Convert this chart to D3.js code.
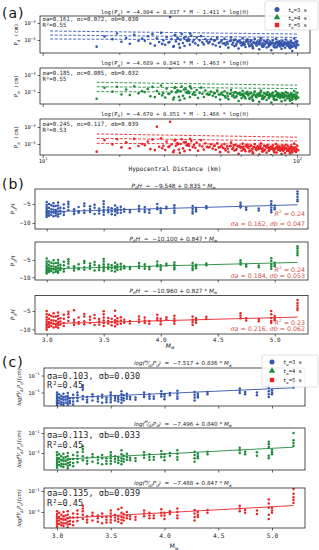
<!DOCTYPE html>
<html><head><meta charset="utf-8">
<script src="https://cdn.jsdelivr.net/npm/d3@7"></script>
<style>html,body{margin:0;padding:0;background:#fff;} svg{display:block;}</style>
</head><body>
<svg id="chart" width="319" height="550"></svg>
<script>
// ---------------- DATA ----------------
const seriesLabels = ["3 s", "4 s", "5 s"];
// Panel (a): hypocentral distance (km) and log10(Pd) for three time windows
const distKm = [16.3,17.5,18.8,19.6,20.4,21.3,22.0,22.9,23.8,24.6,
25.2,25.9,26.5,27.0,27.6,28.1,28.7,29.2,29.8,30.3,30.7,31.2,31.7,32.1,32.6,33.0,33.4,33.9,34.3,34.8,35.2,35.6,36.1,36.5,37.0,37.4,37.9,38.4,38.9,39.3,39.8,40.3,40.8,41.4,41.9,42.4,43.0,43.6,44.2,44.8,33.2,34.6,35.9,31.5,36.8,38.0,32.8,34.0,29.5,37.6,
45.3,45.9,46.6,47.2,47.9,48.5,49.2,49.8,50.5,51.1,51.8,52.4,53.1,53.7,54.4,55.0,55.6,56.1,56.7,57.2,57.8,58.3,58.9,59.4,60.0,60.5,61.1,61.6,62.2,62.7,63.3,63.8,64.4,64.9,65.5,66.0,66.6,67.1,67.7,68.2,68.8,69.3,69.9,70.4,71.0,71.5,72.1,72.6,73.2,73.7,74.3,74.8,75.4,75.9,76.5,77.0,77.6,78.1,78.7,79.2,79.8,80.3,80.9,81.4,82.0,82.5,83.1,83.6,84.2,84.7,85.3,85.8,86.4,86.9,87.5,88.0,88.6,89.1,89.7,90.2,90.8,91.3,91.9,92.4,93.0,93.5,94.1,94.6,95.2,95.7,96.3,96.8,97.4,97.9,98.5,99.0,99.6,100.2,101.0,60.8,66.3,71.8,77.3,82.8,88.3,93.8,63.0,74.0,85.0,96.0];
const logPdA1 = [-4.39,-3.80,-3.95,-3.62,-4.10,-3.88,-4.22,-3.70,-4.05,-3.92,
-4.05,-3.78,-4.21,-3.66,-4.33,-3.90,-4.12,-3.58,-4.02,-4.28,-3.84,-4.15,-2.65,-3.95,-4.40,-3.72,-4.08,-3.87,-4.24,-3.98,-3.64,-4.18,-4.35,-3.81,-4.06,-3.92,-4.27,-3.75,-4.11,-3.99,-4.20,-3.86,-4.31,-4.02,-3.77,-4.14,-4.26,-3.94,-4.08,-4.19,-3.70,-4.45,-3.88,-4.12,-4.00,-3.62,-4.36,-3.93,-4.23,-4.04,
-4.10,-3.95,-4.25,-4.05,-4.32,-3.88,-4.18,-4.40,-4.02,-4.21,-3.92,-4.30,-4.12,-4.45,-4.06,-3.85,-4.27,-4.15,-4.36,-3.98,-4.22,-4.10,-4.50,-4.03,-4.19,-4.33,-3.90,-4.14,-4.26,-4.41,-4.08,-3.96,-4.23,-4.37,-4.12,-4.02,-4.29,-4.48,-4.16,-3.94,-4.24,-4.34,-4.07,-4.20,-4.55,-4.11,-3.89,-4.28,-4.18,-4.39,-4.05,-4.25,-4.13,-4.44,-3.99,-4.21,-4.32,-4.09,-4.27,-4.60,-4.15,-4.02,-4.35,-4.19,-4.26,-3.93,-4.42,-4.11,-4.23,-4.30,-4.07,-4.38,-4.17,-4.52,-4.04,-4.22,-4.29,-4.13,-4.46,-3.97,-4.25,-4.34,-4.10,-4.20,-4.41,-4.15,-4.28,-4.06,-4.36,-4.65,-4.18,-4.24,-3.91,-4.32,-4.12,-4.45,-4.21,-4.08,-4.30,-4.17,-4.26,-4.02,-4.38,-4.14,-4.23,-4.48,-4.09,-4.31,-4.19,-4.40,-4.05];
const logPdA2 = [-4.40,-3.75,-3.98,-3.70,-4.15,-3.85,-4.18,-3.66,-4.08,-3.95,
-4.00,-3.82,-4.25,-3.70,-4.30,-3.94,-4.10,-3.62,-4.06,-4.32,-3.80,-4.12,-2.60,-3.98,-4.44,-3.76,-4.03,-3.90,-4.28,-3.95,-3.68,-4.22,-4.38,-3.84,-4.01,-3.96,-4.30,-3.79,-4.14,-4.02,-4.17,-3.88,-4.35,-4.05,-3.74,-4.10,-4.29,-3.91,-4.12,-4.16,-3.73,-4.48,-3.85,-4.09,-4.04,-3.66,-4.33,-3.97,-4.20,-4.07,
-4.14,-3.98,-4.22,-4.09,-4.29,-3.92,-4.15,-4.44,-4.05,-4.18,-3.96,-4.34,-4.09,-4.42,-4.10,-3.88,-4.24,-4.19,-4.33,-4.01,-4.25,-4.07,-4.53,-4.06,-4.16,-4.36,-3.93,-4.11,-4.30,-4.38,-4.12,-3.99,-4.20,-4.40,-4.09,-4.05,-4.26,-4.51,-4.13,-3.97,-4.27,-4.31,-4.10,-4.17,-4.58,-4.14,-3.92,-4.25,-4.21,-4.36,-4.08,-4.28,-4.10,-4.47,-4.02,-4.18,-4.35,-4.12,-4.24,-4.62,-4.12,-4.05,-4.32,-4.22,-4.23,-3.96,-4.45,-4.08,-4.26,-4.27,-4.10,-4.35,-4.20,-4.55,-4.07,-4.19,-4.32,-4.10,-4.49,-4.00,-4.22,-4.37,-4.07,-4.23,-4.38,-4.18,-4.25,-4.09,-4.33,-4.68,-4.15,-4.27,-3.94,-4.29,-4.15,-4.42,-4.24,-4.05,-4.33,-4.14,-4.29,-4.05,-4.35,-4.17,-4.20,-4.51,-4.06,-4.34,-4.16,-4.43,-4.08];
const logPdA3 = [-4.45,-3.78,-4.02,-3.72,-4.20,-3.90,-4.25,-3.70,-4.12,-4.00,
-4.08,-3.86,-4.30,-3.74,-4.36,-2.98,-4.16,-3.66,-4.10,-4.36,-3.86,-4.18,-2.69,-4.03,-4.48,-3.80,-4.10,-3.95,-4.32,-4.00,-3.72,-4.26,-4.42,-3.88,-4.08,-4.00,-4.35,-3.83,-4.18,-4.06,-4.22,-3.92,-4.40,-4.09,-3.78,-4.15,-4.33,-3.96,-4.16,-4.21,-3.76,-4.52,-3.90,-4.14,-4.08,-3.70,-4.38,-4.02,-4.25,-4.11,
-4.18,-4.02,-4.27,-4.12,-4.34,-3.96,-4.20,-4.48,-4.09,-4.23,-4.00,-4.38,-4.14,-4.47,-4.13,-3.92,-4.29,-4.22,-4.38,-4.05,-4.29,-4.12,-4.57,-4.10,-4.20,-4.40,-3.98,-4.16,-4.34,-4.43,-4.16,-4.03,-4.25,-4.44,-4.13,-4.09,-4.31,-4.55,-4.18,-4.01,-4.31,-4.36,-4.14,-4.22,-4.62,-4.18,-3.96,-4.30,-4.25,-4.41,-4.12,-4.33,-4.14,-4.51,-4.06,-4.22,-4.40,-4.16,-4.29,-4.66,-4.17,-4.09,-4.37,-4.26,-4.28,-4.00,-4.50,-4.13,-4.30,-4.32,-4.14,-4.40,-4.24,-4.59,-4.11,-4.24,-4.36,-4.15,-4.53,-4.04,-4.27,-4.41,-4.12,-4.28,-4.43,-4.22,-4.30,-4.13,-4.38,-4.70,-4.19,-4.31,-3.98,-4.34,-4.19,-4.47,-4.28,-4.10,-4.37,-4.18,-4.33,-4.09,-4.40,-4.21,-4.25,-4.55,-4.10,-4.38,-4.20,-4.47,-4.12];
// additional records in the dense 47-100 km band
const distKmExtra = [52.0,54.8,57.5,59.9,62.0,64.1,66.8,69.0,71.3,73.5,75.6,77.8,80.0,81.7,83.9,86.1,88.2,90.5,92.7,94.9,97.1,99.3,56.4,61.4,67.4,72.9,78.4,84.0,89.4,95.0,98.2,47.5,50.0,53.4,58.6,65.2,70.7,76.2,81.1,87.2];
const logPdA1Extra = [-4.20,-4.05,-4.33,-4.14,-4.28,-4.09,-4.40,-4.17,-4.24,-4.36,-4.11,-4.30,-4.21,-4.44,-4.15,-4.27,-4.35,-4.18,-4.29,-4.42,-4.23,-4.33,-4.00,-4.26,-4.13,-4.38,-4.19,-4.31,-4.24,-4.16,-4.37,-4.02,-4.12,-4.22,-4.08,-4.34,-4.25,-4.14,-4.39,-4.30];
const logPdA2Extra = [-4.24,-4.10,-4.30,-4.18,-4.25,-4.12,-4.44,-4.20,-4.22,-4.39,-4.15,-4.27,-4.25,-4.47,-4.12,-4.30,-4.32,-4.21,-4.26,-4.45,-4.20,-4.36,-4.04,-4.23,-4.16,-4.41,-4.22,-4.28,-4.27,-4.19,-4.34,-4.06,-4.15,-4.25,-4.11,-4.37,-4.22,-4.17,-4.42,-4.27];
const logPdA3Extra = [-4.28,-4.12,-4.36,-4.20,-4.31,-4.15,-4.47,-4.23,-4.27,-4.43,-4.18,-4.33,-4.28,-4.50,-4.19,-4.32,-4.39,-4.24,-4.33,-4.49,-4.27,-4.38,-4.08,-4.30,-4.19,-4.44,-4.25,-4.35,-4.29,-4.22,-4.41,-4.09,-4.18,-4.28,-4.14,-4.40,-4.30,-4.20,-4.45,-4.34];
// dashed fit curves in (a): [distance start, log value, distance end, log value]
const fitA1 = [[10.7,-3.47,100,-3.65],[10.7,-3.71,100,-3.85],[10.7,-3.94,100,-4.00]];
const fitA2 = [[16.3,-3.43,100,-3.60],[16.3,-3.69,100,-3.80],[16.3,-3.98,100,-4.02]];
const fitA3 = [[16.3,-3.41,100,-3.60],[16.3,-3.67,100,-3.82],[16.3,-3.96,100,-4.02]];
const eqA = [[-4.804,0.837,1.411],[-4.689,0.841,1.463],[-4.670,0.851,1.466]];
const sigA = [[0.161,0.072,0.030],[0.185,0.085,0.032],[0.245,0.117,0.039]];
const r2A = [0.55,0.55,0.53];
const distTicks = [10,20,30,40,50,60,70,80,90,100];
const distTickLabels = {10:"1", 100:"2"};
const logPdTicks = [-3,-4];

// Panels (b),(c): event magnitudes and values per event
const mwEvents = [3.00,3.02,3.04,3.06,3.08,3.10,3.12,3.15,3.19,3.24,3.28,3.33,3.38,3.42,3.46,3.50,3.54,3.57,3.60,3.62,3.65,3.68,3.73,3.81,3.86,3.90,3.97,4.00,4.05,4.12,4.28,4.31,4.40,4.70,4.75,4.86,4.97,5.00,5.20];
const pdhB1 = [[-4.5,-5.2,-5.8,-6.3,-6.8,-7.2,-7.6,-8.0,-8.4],[-5.0,-6.0,-6.9,-7.5,-8.1],[-5.3,-6.4,-7.1,-7.8],[-4.8,-5.6,-6.5,-7.3,-8.2],[-5.5,-6.6,-7.4,-8.0],[-4.6,-5.4,-6.2,-7.0,-7.7,-8.3],[-6.0,-6.8,-7.5],[-5.1,-6.1,-7.2,-7.9],[-4.4,-5.0,-5.7,-6.6],[-6.4,-7.0,-7.6],[-5.8,-6.9,-7.3],[-4.9,-5.5,-6.7,-7.4],[-5.6,-6.3,-7.1],[-5.2,-6.0,-7.6],[-6.2,-6.8,-7.5],[-4.3,-5.0,-5.8,-6.5,-7.1,-7.8],[-5.9,-6.6,-7.2],[-6.1,-6.9,-7.7],[-5.4,-6.4,-7.0,-7.9],[-6.0,-6.7,-7.4],[-5.7,-6.5,-7.3],[-6.3,-7.0],[-6.6,-7.2],[-5.5,-6.2,-6.9],[-5.8,-6.5,-7.1],[-6.6,-7.3],[-5.0,-5.9,-6.4],[-6.1,-6.8,-7.4],[-5.7,-6.2],[-5.3,-6.0,-6.7,-7.3],[-5.5,-6.3,-7.0,-7.5],[-6.0,-6.5,-7.0],[-5.6,-6.1],[-4.7,-5.3,-5.9],[-6.0,-6.5],[-6.2,-6.7],[-4.3,-5.0,-5.9,-6.6,-7.2],[-5.4,-6.0,-6.4],[-1.7,-2.4,-3.1,-3.8,-4.3]];
const pdhB2 = [[-4.6,-5.4,-6.1,-6.7,-7.2,-7.7,-8.1,-8.5,-8.9],[-5.4,-6.4,-7.2,-7.9,-8.5],[-5.8,-6.8,-7.5,-8.2],[-5.1,-6.0,-6.9,-7.7,-8.6],[-5.9,-7.0,-7.8,-8.4],[-5.0,-5.8,-6.6,-7.4,-8.1,-8.7],[-6.4,-7.2,-7.9],[-5.5,-6.5,-7.6,-8.3],[-4.8,-5.4,-6.1,-7.0],[-6.8,-7.4,-8.0],[-6.2,-7.3,-7.7],[-5.3,-5.9,-7.1,-7.8],[-6.0,-6.7,-7.5],[-5.6,-6.4,-8.0],[-6.6,-7.2,-7.9],[-4.7,-5.4,-6.2,-6.9,-7.5,-8.2],[-6.3,-7.0,-7.6],[-6.5,-7.3,-8.1],[-5.8,-6.8,-7.4,-8.3],[-6.4,-7.1,-7.8],[-6.1,-6.9,-7.7],[-6.7,-7.4],[-7.0,-7.6],[-5.9,-6.6,-7.3],[-6.2,-6.9,-7.5],[-7.0,-7.7],[-5.4,-6.3,-6.8],[-6.5,-7.2,-7.8],[-6.1,-6.6],[-5.7,-6.4,-7.1,-7.7],[-5.9,-6.7,-7.4,-7.9],[-6.4,-6.9,-7.4],[-6.0,-6.5],[-5.1,-5.7,-6.3],[-6.4,-6.9],[-6.6,-7.1],[-4.5,-5.3,-6.2,-6.9,-7.5],[-5.8,-6.4,-6.8],[-1.0,-1.6,-2.3,-3.0,-3.6]];
const pdhB3 = [[-5.0,-5.9,-6.7,-7.4,-8.0,-8.6,-9.1,-9.6,-10.1],[-6.0,-7.1,-8.0,-8.7,-9.4],[-6.4,-7.5,-8.3,-9.1],[-5.6,-6.6,-7.6,-8.5,-9.5],[-6.5,-7.7,-8.6,-9.3],[-5.4,-6.3,-7.2,-8.1,-8.9,-9.6],[-7.0,-7.9,-8.7],[-6.0,-7.1,-8.3,-9.1],[-5.2,-5.9,-6.7,-7.7],[-4.8,-7.4,-8.1,-8.8],[-6.8,-8.0,-8.5],[-5.8,-6.5,-7.8,-8.6],[-6.6,-7.4,-8.3],[-6.1,-7.0,-8.8],[-7.2,-7.9,-8.7],[-5.1,-5.9,-6.8,-7.6,-8.3,-9.1],[-6.9,-7.7,-8.4],[-7.1,-8.0,-8.9],[-4.9,-6.4,-7.5,-8.2,-9.2],[-7.0,-7.8,-8.6],[-6.7,-7.6,-8.5],[-7.4,-8.2],[-7.7,-8.4],[-6.5,-7.3,-8.1],[-6.8,-7.6,-8.3],[-7.7,-8.5],[-6.0,-6.9,-7.5],[-7.1,-7.9,-8.6],[-6.7,-7.3],[-6.3,-7.1,-7.8,-8.5],[-6.5,-7.4,-8.1,-8.8],[-7.0,-7.6,-8.2],[-6.6,-7.2],[-5.6,-6.3,-7.0],[-7.0,-7.6],[-7.2,-7.8],[-5.0,-5.9,-6.9,-7.7,-8.3],[-6.4,-7.1,-7.5],[-2.0,-2.8,-3.5,-4.2,-4.7]];
const logC1 = [[-4.0,-4.4,-4.8,-5.1,-5.4,-5.7,-6.0,-6.3],[-4.3,-4.9,-5.4,-5.9],[-4.6,-5.2,-5.7,-6.1],[-4.2,-4.8,-5.3,-5.8,-6.2],[-4.7,-5.3,-5.8],[-4.1,-4.6,-5.1,-5.6,-6.0,-6.4],[-5.0,-5.5,-5.9],[-4.4,-5.0,-5.6,-6.1],[-4.0,-4.5,-5.0,-5.5],[-2.7,-3.1,-3.5,-4.6,-5.2],[-4.8,-5.3,-5.7],[-4.3,-4.7,-5.4],[-4.7,-5.1,-5.6],[-4.4,-4.9,-5.8],[-4.9,-5.3,-5.7],[-4.0,-4.4,-4.9,-5.3,-5.7],[-4.6,-5.0,-5.4],[-4.8,-5.2,-5.6],[-3.8,-4.3,-4.9,-5.3,-5.8],[-4.5,-5.0,-5.4],[-4.2,-4.7,-5.1],[-4.8,-5.2],[-4.9,-5.3],[-4.0,-4.4,-4.8],[-4.3,-4.7,-5.1],[-4.7,-5.1],[-3.8,-4.3,-4.7],[-4.3,-4.7,-5.2],[-4.1,-4.5],[-3.7,-4.2,-4.7,-5.1],[-3.9,-4.4,-4.9,-5.4],[-4.2,-4.6,-4.9],[-3.9,-4.3],[-3.3,-3.7,-4.1],[-3.9,-4.3],[-4.0,-4.5],[-2.7,-3.2,-3.8,-4.3,-4.8],[-3.6,-4.0,-4.3],[-2.4,-2.8,-3.1]];
const logC2 = [[-3.9,-4.3,-4.7,-5.0,-5.3,-5.6,-5.9,-6.2],[-4.2,-4.8,-5.3,-5.8],[-4.5,-5.1,-5.6,-6.0],[-4.1,-4.7,-5.2,-5.7,-6.1],[-4.6,-5.2,-5.7],[-4.0,-4.5,-5.0,-5.5,-5.9,-6.3],[-4.9,-5.4,-5.8],[-4.3,-4.9,-5.5,-6.0],[-3.9,-4.4,-4.9,-5.4],[-3.0,-3.4,-3.8,-4.5,-5.1],[-4.7,-5.2,-5.6],[-4.2,-4.6,-5.3],[-4.6,-5.0,-5.5],[-4.3,-4.8,-5.7],[-4.8,-5.2,-5.6],[-3.9,-4.3,-4.8,-5.2,-5.6],[-4.5,-4.9,-5.3],[-4.7,-5.1,-5.5],[-3.6,-4.2,-4.8,-5.2,-5.7],[-4.4,-4.9,-5.3],[-4.1,-4.6,-5.0],[-4.7,-5.1],[-4.8,-5.2],[-3.9,-4.3,-4.7],[-4.2,-4.6,-5.0],[-4.6,-5.0],[-3.7,-4.2,-4.6],[-4.2,-4.6,-5.1],[-4.0,-4.4],[-3.6,-4.1,-4.6,-5.0],[-3.8,-4.3,-4.8,-5.3],[-4.1,-4.5,-4.8],[-3.8,-4.2],[-3.2,-3.6,-4.0],[-3.8,-4.2],[-3.9,-4.4],[-2.3,-2.7,-3.1,-4.4,-4.8],[-3.5,-3.9,-4.2],[-1.0,-2.1,-2.5,-2.9]];
const logC3 = [[-3.9,-4.3,-4.6,-4.9,-5.2,-5.5,-5.8,-6.1],[-4.1,-4.7,-5.2,-5.7],[-4.4,-5.0,-5.5,-5.9],[-4.0,-4.6,-5.1,-5.6,-6.0],[-4.5,-5.1,-5.6],[-3.9,-4.4,-4.9,-5.4,-5.8,-6.2],[-4.8,-5.3,-5.7],[-4.2,-4.8,-5.4,-5.9],[-3.8,-4.3,-4.8,-5.3],[-3.1,-3.5,-3.9,-4.4,-5.0],[-4.6,-5.1,-5.5],[-4.1,-4.5,-5.2],[-4.5,-4.9,-5.4],[-4.2,-4.7,-5.6],[-4.7,-5.1,-5.5],[-3.8,-4.2,-4.7,-5.1,-5.5],[-4.4,-4.8,-5.2],[-3.6,-4.6,-5.0,-5.4],[-3.4,-4.1,-4.7,-5.1,-5.6],[-4.3,-4.8,-5.2],[-4.0,-4.5,-4.9],[-4.6,-5.0],[-4.7,-5.1],[-3.8,-4.2,-4.6],[-4.1,-4.5,-4.9],[-4.5,-4.9],[-3.6,-4.1,-4.5],[-4.1,-4.5,-5.0],[-3.9,-4.3],[-3.5,-4.0,-4.5,-4.9],[-3.7,-4.2,-4.7,-5.2],[-4.0,-4.4,-4.7],[-3.7,-4.1],[-3.1,-3.5,-3.9],[-3.7,-4.1],[-3.8,-4.3],[-2.2,-2.8,-3.4,-4.4,-5.0],[-3.4,-3.8,-4.1],[-0.7,-1.4,-1.9,-2.3,-2.7]];
const eqB = [[-9.548,0.835],[-10.100,0.847],[-10.960,0.827]];
const r2B = [0.24,0.24,0.23];
const sigB = [[0.162,0.047],[0.184,0.053],[0.216,0.062]];
const eqC = [[-7.517,0.836],[-7.496,0.840],[-7.488,0.847]];
const sigC = [[0.103,0.030],[0.113,0.033],[0.135,0.039]];
const r2C = [0.45,0.45,0.45];
const mwTicks = [3.0,3.5,4.0,4.5,5.0];
const pdhTicks = [-5,-10];
const logCTicks = [-1,-4];
const fitRange = [3.0,5.2];

// ---------------- DRAWING ----------------
const svg = d3.select("#chart");
const MONO = "DejaVu Sans Mono, monospace", SANS = "DejaVu Sans, sans-serif";
const COLORS = ["#3456ab","#1f8a3c","#e8262a"];
const SHAPES = [d3.symbolCircle, d3.symbolTriangle, d3.symbolSquare];
const INK = "#262626";
const f3 = d3.format(".3f"), f2 = d3.format(".2f");
const mn = s => String(s).replace("-", "\u2212");

function rich(x, y, parts, o) {
  const t = svg.append("text").attr("x", x).attr("y", y)
    .attr("font-family", o.font).attr("font-size", o.fs).attr("fill", o.fill || INK)
    .attr("text-anchor", o.anchor || "start").style("white-space", "pre");
  if (o.italic) t.attr("font-style", "italic");
  if (o.transform) t.attr("transform", o.transform);
  let shift = 0;
  parts.forEach(p => {
    const s = typeof p === "string" ? {t: p} : p;
    const target = s.sub ? 0.3 * o.fs : s.sup ? -0.42 * o.fs : 0;
    const ts = t.append("tspan").attr("dy", target - shift).text(s.t);
    shift = target;
    if (s.sub || s.sup) ts.attr("font-size", o.fs * 0.7);
    if (s.it) ts.attr("font-style", "italic");
    if (s.up) ts.attr("font-style", "normal");
  });
  return t;
}
function frame(x0, x1, y0, y1) {
  svg.append("rect").attr("x", x0).attr("y", y0).attr("width", x1 - x0).attr("height", y1 - y0)
    .attr("fill", "none").attr("stroke", INK).attr("stroke-width", 0.8);
}
function styleAxis(g, fs) {
  g.select(".domain").remove();
  g.selectAll(".tick line").attr("stroke", INK).attr("stroke-width", 0.7);
  g.selectAll(".tick text").attr("font-family", MONO).attr("font-size", fs).attr("fill", INK);
}
function powLabels(g, fs, expOf) {
  g.selectAll(".tick text").each(function(d) {
    const e = expOf(d);
    const t = d3.select(this);
    t.text("");
    if (e === null || e === undefined) return;
    t.append("tspan").text("10");
    t.append("tspan").attr("dy", -fs * 0.45).attr("font-size", fs * 0.7).text(e);
  });
}

// ---- Panel (a)
svg.append("text").attr("x", 2).attr("y", 18).attr("font-family", SANS).attr("font-size", 14)
  .attr("letter-spacing", 1).attr("fill", "#111").text("(a)");
const xA = d3.scaleLog().domain([9.76, 112.4]).range([40, 310]);
const aLayout = [{top:16,bottom:53,y3:23,y4:40,tY:14,sY:21,rY:27},
                 {top:68,bottom:104,y3:75,y4:92,tY:65,sY:74.5,rY:81},
                 {top:119,bottom:155,y3:127,y4:144,tY:115.5,sY:125.5,rY:132}];
const aVals = [logPdA1, logPdA2, logPdA3];
const aValsExtra = [logPdA1Extra, logPdA2Extra, logPdA3Extra];
const aFits = [fitA1, fitA2, fitA3];
aLayout.forEach((L, k) => {
  const y = d3.scaleLinear().domain([-4, -3]).range([L.y4, L.y3]);
  const clipId = "clipA" + k;
  svg.append("clipPath").attr("id", clipId).append("rect")
    .attr("x", 40).attr("y", L.top).attr("width", 270).attr("height", L.bottom - L.top);
  const g = svg.append("g").attr("clip-path", `url(#${clipId})`);
  const pts = aVals[k].map((v, i) => [distKm[i], v])
    .concat(aValsExtra[k].map((v, i) => [distKmExtra[i], v]))
    .filter(p => p[0] !== undefined);
  g.selectAll("circle.p").data(pts).join("circle")
    .attr("cx", d => xA(d[0])).attr("cy", d => y(d[1])).attr("r", 1.3).attr("fill", COLORS[k]);
  aFits[k].forEach(f => {
    g.append("line").attr("x1", xA(f[0])).attr("y1", y(f[1])).attr("x2", xA(f[2])).attr("y2", y(f[3]))
      .attr("stroke", COLORS[k]).attr("stroke-width", 0.9).attr("stroke-dasharray", "3,1.6");
  });
  frame(40, 310, L.top, L.bottom);
  const gx = svg.append("g").attr("transform", `translate(0,${L.bottom})`)
    .call(d3.axisBottom(xA).tickValues(distTicks).tickSize(2.5).tickPadding(1.5));
  styleAxis(gx, 5.5);
  gx.selectAll(".tick line").attr("y2", d => (d === 10 || d === 100) ? 3 : 1.8);
  powLabels(gx, 5.5, d => k === 2 ? distTickLabels[d] || null : null);
  const gy = svg.append("g").attr("transform", "translate(40,0)")
    .call(d3.axisLeft(y).tickValues(logPdTicks).tickSize(2.5).tickPadding(2));
  styleAxis(gy, 5.5);
  powLabels(gy, 5.5, d => "\u2212" + Math.abs(d));
  const e = eqA[k];
  rich(175, L.tY, ["log(", "P", {t:"d", sub:true}, `) = ${mn(f3(e[0]))} + ${f3(e[1])} * M - ${f3(e[2])} * log(H)`],
       {font: MONO, fs: 5.5, anchor: "middle"});
  rich(42.5, L.sY, [`\u03c3a=${f3(sigA[k][0])}, \u03c3c=${f3(sigA[k][1])}, \u03c3b=${f3(sigA[k][2])}`], {font: MONO, fs: 5.7});
  rich(42.5, L.rY, [`R\u00b2=${f2(r2A[k])}`], {font: MONO, fs: 5.7});
  const cy = (L.top + L.bottom) / 2;
  rich(18, cy, ["P", {t:"d", sub:true}, " (cm)"], {font: MONO, fs: 5.5, anchor: "middle", transform: `rotate(-90,18,${cy})`});
});
rich(175, 170.5, ["Hypocentral Distance (km)"], {font: MONO, fs: 6.2, anchor: "middle"});

function legend(x, y, w, h, mx, tx, ys) {
  svg.append("rect").attr("x", x).attr("y", y).attr("width", w).attr("height", h).attr("rx", 1.5)
    .attr("fill", "white").attr("fill-opacity", 0.9).attr("stroke", "#cccccc").attr("stroke-width", 0.6);
  seriesLabels.forEach((lab, k) => {
    svg.append("path").attr("d", d3.symbol().type(SHAPES[k]).size(k === 1 ? 18 : 20)())
      .attr("transform", `translate(${mx},${ys[k]})`).attr("fill", COLORS[k]);
    rich(tx, ys[k] + 2, [{t:"t", it:true}, {t:"w", sub:true, it:true}, "=" + lab], {font: MONO, fs: 5.5});
  });
}
legend(265, 1, 53, 29, 277, 288, [9.5, 17.5, 25]);

// ---- Panel (b)
svg.append("text").attr("x", 2).attr("y", 189).attr("font-family", SANS).attr("font-size", 14)
  .attr("letter-spacing", 1).attr("fill", "#111").text("(b)");
const xB = d3.scaleLinear().domain([3, 5]).range([46.7, 274.7]);
const bLayout = [{top:189,bottom:229,y5:204,y10:223,tY:187.5,rY:216,sY:225.5},
                 {top:242,bottom:280,y5:260,y10:277.3,tY:240.5,rY:271.5,sY:277.5},
                 {top:295.5,bottom:334,y5:311,y10:329.3,tY:292.5,rY:324.5,sY:330.5}];
const bVals = [pdhB1, pdhB2, pdhB3];
bLayout.forEach((L, k) => {
  const y = d3.scaleLinear().domain([-10, -5]).range([L.y10, L.y5]);
  const pts = [];
  mwEvents.forEach((m, i) => (bVals[k][i] || []).forEach(v => pts.push([m, v])));
  svg.append("g").selectAll("circle").data(pts).join("circle")
    .attr("cx", d => xB(d[0])).attr("cy", d => y(d[1])).attr("r", 1.25).attr("fill", COLORS[k]);
  const e = eqB[k];
  svg.append("line").attr("x1", xB(fitRange[0])).attr("y1", y(e[0] + e[1] * fitRange[0]))
    .attr("x2", xB(fitRange[1])).attr("y2", y(e[0] + e[1] * fitRange[1]))
    .attr("stroke", COLORS[k]).attr("stroke-width", 0.9);
  frame(35, 308, L.top, L.bottom);
  const gx = svg.append("g").attr("transform", `translate(0,${L.bottom})`)
    .call(d3.axisBottom(xB).tickValues(mwTicks).tickSize(2.5).tickPadding(1.5)
      .tickFormat(k === 2 ? d3.format(".1f") : () => ""));
  styleAxis(gx, 6);
  const gy = svg.append("g").attr("transform", "translate(35,0)")
    .call(d3.axisLeft(y).tickValues(pdhTicks).tickSize(2.5).tickPadding(2).tickFormat(d => mn(d)));
  styleAxis(gy, 6);
  rich(173.5, L.tY, [{t:"P", it:true}, {t:"d", sub:true, it:true}, {t:"H", it:true}, `  =  ${mn(f3(e[0]))} + ${f3(e[1])} * `, {t:"M", it:true}, {t:"w", sub:true, it:true}],
       {font: SANS, fs: 5.8, anchor: "middle"});
  rich(305, L.rY, [{t:"R", it:true}, {t:"2", sup:true}, " = " + f2(r2B[k])], {font: SANS, fs: 6.3, anchor: "end", fill: "#d0504c"});
  rich(305, L.sY, [{t:"\u03c3a", it:true}, " = " + f3(sigB[k][0]) + ", ", {t:"\u03c3b", it:true}, " = " + f3(sigB[k][1])], {font: SANS, fs: 6.3, anchor: "end", fill: "#d0504c"});
  const cy = (L.top + L.bottom) / 2;
  rich(15, cy, [{t:"P", it:true}, {t:"d", sub:true, it:true}, {t:"H", it:true}], {font: SANS, fs: 6, anchor: "middle", transform: `rotate(-90,15,${cy})`});
});
rich(170, 347.5, [{t:"M", it:true}, {t:"w", sub:true, it:true}], {font: SANS, fs: 6.3, anchor: "middle"});

// ---- Panel (c)
svg.append("text").attr("x", 2).attr("y", 367).attr("font-family", SANS).attr("font-size", 14)
  .attr("letter-spacing", 1).attr("fill", "#111").text("(c)");
const xC = d3.scaleLinear().domain([3, 5]).range([57, 272]);
const cLayout = [{top:368,bottom:406,y1:375.5,y4:392.5,tY:365,sY:379,rY:388},
                 {top:428,bottom:470,y1:433,y4:453,tY:425.5,sY:437.5,rY:447.5},
                 {top:488,bottom:528,y1:491,y4:512,tY:485,sY:496,rY:506}];
const cVals = [logC1, logC2, logC3];
cLayout.forEach((L, k) => {
  const y = d3.scaleLinear().domain([-4, -1]).range([L.y4, L.y1]);
  const clipId = "clipC" + k;
  svg.append("clipPath").attr("id", clipId).append("rect")
    .attr("x", 44).attr("y", L.top).attr("width", 261).attr("height", L.bottom - L.top);
  const pts = [];
  mwEvents.forEach((m, i) => (cVals[k][i] || []).forEach(v => pts.push([m, v])));
  const g = svg.append("g").attr("clip-path", `url(#${clipId})`);
  g.selectAll("circle").data(pts).join("circle")
    .attr("cx", d => xC(d[0])).attr("cy", d => y(d[1])).attr("r", 1.25).attr("fill", COLORS[k]);
  const e = eqC[k];
  g.append("line").attr("x1", xC(fitRange[0])).attr("y1", y(e[0] + e[1] * fitRange[0]))
    .attr("x2", xC(fitRange[1])).attr("y2", y(e[0] + e[1] * fitRange[1]))
    .attr("stroke", COLORS[k]).attr("stroke-width", 0.9);
  frame(44, 305, L.top, L.bottom);
  const gx = svg.append("g").attr("transform", `translate(0,${L.bottom})`)
    .call(d3.axisBottom(xC).tickValues(mwTicks).tickSize(2.5).tickPadding(3)
      .tickFormat(k === 2 ? d3.format(".1f") : () => ""));
  styleAxis(gx, 6.3);
  const gy = svg.append("g").attr("transform", "translate(44,0)")
    .call(d3.axisLeft(y).tickValues(logCTicks).tickSize(2.5).tickPadding(2));
  styleAxis(gy, 5.5);
  powLabels(gy, 5.5, d => "\u2212" + Math.abs(d));
  rich(183, L.tY, [{t:"log(", it:true}, {t:"H", sup:true, it:true}, {t:"\u2044", it:true}, {t:"\u0394t", sub:true, it:true}, {t:"P", it:true}, {t:"d", sub:true, it:true}, {t:")", it:true}, `  =  ${mn(f3(e[0]))} + ${f3(e[1])} * `, {t:"M", it:true}, {t:"w", sub:true, it:true}],
       {font: SANS, fs: 5.6, anchor: "middle"});
  rich(47, L.sY, [`\u03c3a=${f3(sigC[k][0])}, \u03c3b=${f3(sigC[k][1])}`], {font: MONO, fs: 8.6});
  rich(47, L.rY, [`R\u00b2=${f2(r2C[k])}`], {font: MONO, fs: 8.6});
  const cy = (L.top + L.bottom) / 2;
  rich(21, cy, [{t:"log(", it:true}, {t:"H", sup:true, it:true}, {t:"\u2044", it:true}, {t:"\u0394t", sub:true, it:true}, {t:"P", it:true}, {t:"d", sub:true, it:true}, {t:")(cm)", it:true}],
       {font: SANS, fs: 5.3, anchor: "middle", transform: `rotate(-90,21,${cy})`});
});
rich(174, 548, [{t:"M", up:true}, {t:"w", sub:true}], {font: SANS, fs: 6.3, anchor: "middle"});
legend(262, 355, 56, 32, 272, 283, [362, 371, 380]);
</script>
</body></html>
